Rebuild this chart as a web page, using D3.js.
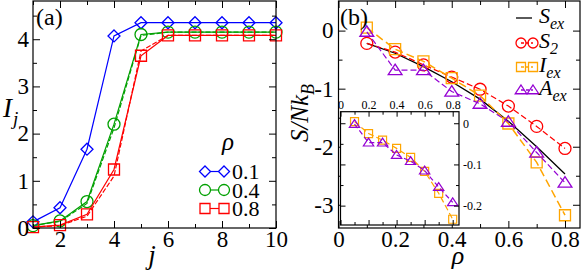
<!DOCTYPE html>
<html>
<head>
<meta charset="utf-8">
<script src="https://cdn.jsdelivr.net/npm/d3@7"></script>
<style>
body { margin: 0; background: #fff; }
text { font-family: "Liberation Serif", "Times New Roman", serif; }
</style>
</head>
<body>
<svg id="fig" width="581" height="277"></svg>
<script>
// ---- panel (a) data ----
const jVals = [1, 2, 3, 4, 5, 6, 7, 8, 9, 10];
const rhoLabels = ["0.1", "0.4", "0.8"];
const ij01 = [0.13, 0.43, 1.67, 4.07, 4.35, 4.35, 4.35, 4.35, 4.35, 4.35];
const ij04 = [0.05, 0.15, 0.56, 2.2, 4.1, 4.15, 4.15, 4.15, 4.15, 4.15];
const ij08 = [0.02, 0.06, 0.29, 1.24, 3.65, 4.08, 4.08, 4.08, 4.08, 4.08];
const ij04dash = [0.05, 0.14, 0.52, 2.12, 4.08, 4.15, 4.15, 4.15, 4.15, 4.15];
const ij08dash = [0.02, 0.05, 0.25, 1.1, 3.75, 4.08, 4.08, 4.08, 4.08, 4.08];

// ---- panel (b) data ----
const rhoVals = [0.1, 0.2, 0.3, 0.4, 0.5, 0.6, 0.7, 0.8];
const sEx = [-0.22, -0.39, -0.62, -0.88, -1.18, -1.56, -2.0, -2.47];
const s2 = [-0.22, -0.37, -0.59, -0.8, -1.01, -1.3, -1.65, -2.03];
const iEx = [0.05, -0.32, -0.53, -0.82, -1.12, -1.6, -2.27, -3.18];
const aEx = [-0.02, -0.68, -0.68, -1.05, -1.26, -1.57, -2.1, -2.62];
// inset
const insetIex = [0.004, -0.025, -0.041, -0.061, -0.083, -0.117, -0.17, -0.233];
const insetAex = [-0.002, -0.047, -0.047, -0.077, -0.092, -0.115, -0.155, -0.192];

const svg = d3.select("#fig");

function markerPath(type, s) {
  if (type == "diamond") return `M0,${-s}L${s},0L0,${s}L${-s},0Z`;
  if (type == "square") return `M${-s},${-s}H${s}V${s}H${-s}Z`;
  if (type == "triangle") return `M0,${-s}L${s * 1.15},${s * 0.75}L${-s * 1.15},${s * 0.75}Z`;
  return `M${s},0A${s},${s} 0 1,1 ${-s},0A${s},${s} 0 1,1 ${s},0Z`;
}

function ticks(g, axis, pos, vals, len, dim) {
  const tr = dim == "x" ? `translate(0,${pos})` : `translate(${pos},0)`;
  return g.append("g").attr("transform", tr)
    .call(axis.tickValues(vals).tickSize(len).tickSizeOuter(0))
    .call(s => s.select(".domain").remove());
}

// closed box with inward ticks on all four sides
function boxAxes(g, x, y, o) {
  const [x0, x1] = x.range(), [y0, y1] = y.range();
  g.append("rect").attr("x", x0).attr("y", y1).attr("width", x1 - x0).attr("height", y0 - y1)
    .attr("fill", "none").attr("stroke", "#000").attr("stroke-width", 1.2);
  const M = o.majorLen, m = o.minorLen;
  ticks(g, d3.axisBottom(x).tickFormat(""), y0, o.xMinor, -m, "x");
  ticks(g, d3.axisTop(x).tickFormat(""), y1, o.xMinor, -m, "x");
  ticks(g, d3.axisLeft(y).tickFormat(""), x0, o.yMinor, -m, "y");
  ticks(g, d3.axisRight(y).tickFormat(""), x1, o.yMinor, -m, "y");
  const xb = ticks(g, d3.axisBottom(x).tickFormat(o.xLabelsBottom ? o.xFmt : ""), y0, o.xMajor, -M, "x");
  const xt = ticks(g, d3.axisTop(x).tickFormat(o.xLabelsTop ? o.xFmt : ""), y1, o.xMajor, -M, "x");
  const yl = ticks(g, d3.axisLeft(y).tickFormat(o.yLabelsLeft ? o.yFmt : ""), x0, o.yMajor, -M, "y");
  const yr = ticks(g, d3.axisRight(y).tickFormat(o.yLabelsRight ? o.yFmt : ""), x1, o.yMajor, -M, "y");
  g.selectAll("line").attr("stroke", "#000").attr("stroke-width", 1);
  g.selectAll(".tick text").attr("fill", "#000").style("font-family", '"Liberation Serif", serif')
    .style("font-size", o.fontSize + "px");
  xb.selectAll("text").attr("y", o.xPad).attr("dy", "0.71em");
  xt.selectAll("text").attr("y", -o.xPad).attr("dy", "0");
  yl.selectAll("text").attr("x", -o.yPad);
  yr.selectAll("text").attr("x", o.yPad);
  g.selectAll(".tick text").text(function () { return this.textContent.replace("−", "-"); });
}

function series(g, x, y, xs, ys, o) {
  const pts = xs.map((v, i) => [x(v), y(ys[i])]);
  if (o.line !== false)
    g.append("path").attr("d", d3.line()(pts)).attr("fill", "none")
      .attr("stroke", o.color).attr("stroke-width", o.width || 1.2)
      .attr("stroke-dasharray", o.dash || null);
  if (o.marker)
    g.selectAll(null).data(pts).enter().append("path")
      .attr("transform", d => `translate(${d[0]},${d[1]})`)
      .attr("d", markerPath(o.marker, o.size))
      .attr("fill", "none").attr("stroke", o.color).attr("stroke-width", o.mw || 1.3);
}

// ================= panel (a) =================
const ga = svg.append("g");
const xa = d3.scaleLinear().domain([1, 10]).range([33, 276]);
const ya = d3.scaleLinear().domain([0, 4.81]).range([228, 1]);

const colA = ["#0000ff", "#00a000", "#ff0000"];
series(ga, xa, ya, jVals, ij04dash, { color: colA[1], dash: "5,2" });
series(ga, xa, ya, jVals, ij08dash, { color: colA[2], dash: "5,2" });
series(ga, xa, ya, jVals, ij01, { color: colA[0], marker: "diamond", size: 6 });
series(ga, xa, ya, jVals, ij04, { color: colA[1], marker: "circle", size: 6 });
series(ga, xa, ya, jVals, ij08, { color: colA[2], marker: "square", size: 5.5 });

boxAxes(ga, xa, ya, {
  xMajor: [2, 4, 6, 8, 10], xMinor: [1, 3, 5, 7, 9], yMajor: [0, 1, 2, 3, 4], yMinor: [0.5, 1.5, 2.5, 3.5, 4.5],
  majorLen: 7, minorLen: 4, xLabelsBottom: true, yLabelsLeft: true,
  xFmt: d3.format("d"), yFmt: d3.format("d"), fontSize: 23, xPad: 3, yPad: 4
});

ga.append("text").attr("x", 36).attr("y", 25).style("font-size", "24px").text("(a)");
const ylab = ga.append("text").attr("x", 3).attr("y", 117).style("font-size", "27px").style("font-style", "italic");
ylab.append("tspan").text("I");
ylab.append("tspan").attr("dy", 8).attr("dx", 1).style("font-size", "19px").text("j");
ga.append("text").attr("x", 152).attr("y", 264).attr("text-anchor", "middle")
  .style("font-size", "27px").style("font-style", "italic").text("j");

// legend (a)
ga.append("text").attr("x", 228).attr("y", 150).attr("text-anchor", "middle")
  .style("font-size", "25px").style("font-style", "italic").text("ρ");
const legA = ["diamond", "circle", "square"];
[171.5, 190, 208.5].forEach((ly, i) => {
  const lg = ga.append("g");
  lg.append("line").attr("x1", 205).attr("x2", 224).attr("y1", ly).attr("y2", ly)
    .attr("stroke", colA[i]).attr("stroke-width", 1.2);
  [205, 224].forEach(lx => lg.append("path").attr("transform", `translate(${lx},${ly})`)
    .attr("d", markerPath(legA[i], i == 2 ? 5 : 5.5)).attr("fill", "#fff")
    .attr("stroke", colA[i]).attr("stroke-width", 1.3));
  lg.append("text").attr("x", 232).attr("y", ly + 7.5).style("font-size", "22px").text(rhoLabels[i]);
});

// ================= panel (b) =================
const gb = svg.append("g");
const xb = d3.scaleLinear().domain([0, 0.853]).range([338.5, 580]);
const yb = d3.scaleLinear().domain([-3.4, 0.51]).range([228, 1]);

const cRed = "#ff0000", cOr = "#ffa500", cPur = "#9400d3";
series(gb, xb, yb, rhoVals, sEx, { color: "#000", width: 1.3 });
series(gb, xb, yb, rhoVals, s2, { color: cRed, dash: "6,3", marker: "circle", size: 6 });
series(gb, xb, yb, rhoVals, iEx, { color: cOr, dash: "8,4", marker: "square", size: 5.5, width: 1.5 });
series(gb, xb, yb, rhoVals, aEx, { color: cPur, dash: "6,3", marker: "triangle", size: 6 });

boxAxes(gb, xb, yb, {
  xMajor: [0, 0.2, 0.4, 0.6, 0.8], xMinor: [0.1, 0.3, 0.5, 0.7], yMajor: [-3, -2, -1, 0], yMinor: [-2.5, -1.5, -0.5],
  majorLen: 7, minorLen: 4, xLabelsBottom: true, yLabelsLeft: true,
  xFmt: d => d == 0 ? "0" : d3.format(".1f")(d), yFmt: d3.format("d"), fontSize: 23, xPad: 3, yPad: 5
});

gb.append("text").attr("x", 340).attr("y", 25).style("font-size", "24px").text("(b)");
const ylb = gb.append("text").attr("transform", "translate(308,113) rotate(-90)")
  .attr("text-anchor", "middle").style("font-size", "25px").style("font-style", "italic");
ylb.append("tspan").text("S/Nk");
ylb.append("tspan").attr("dy", 6).style("font-size", "18px").text("B");
gb.append("text").attr("x", 458).attr("y", 264).attr("text-anchor", "middle")
  .style("font-size", "26px").style("font-style", "italic").text("ρ");

// legend (b)
const legB = [
  { name: "S", sub: "ex", color: "#000", marker: null, dash: null },
  { name: "S", sub: "2", color: cRed, marker: "circle", dash: "3,2" },
  { name: "I", sub: "ex", color: cOr, marker: "square", dash: "3,2" },
  { name: "A", sub: "ex", color: cPur, marker: "triangle", dash: "3,2" }
];
[18, 43, 67, 90].forEach((ly, i) => {
  const d = legB[i];
  const lg = gb.append("g");
  lg.append("line").attr("x1", d.marker ? 521 : 516).attr("x2", d.marker ? 533 : 532)
    .attr("y1", ly).attr("y2", ly).attr("stroke", d.color).attr("stroke-width", 1.3)
    .attr("stroke-dasharray", d.dash);
  if (d.marker) [521, 533].forEach(lx => lg.append("path").attr("transform", `translate(${lx},${ly})`)
    .attr("d", markerPath(d.marker, d.marker == "square" ? 4.5 : 5)).attr("fill", "none")
    .attr("stroke", d.color).attr("stroke-width", 1.3));
  const t = lg.append("text").attr("x", 539).attr("y", ly + 5).style("font-size", "22px").style("font-style", "italic");
  t.append("tspan").text(d.name);
  t.append("tspan").attr("dy", 6).style("font-size", "16px").text(d.sub);
});

// ---- inset ----
const gi = svg.append("g");
const xi = d3.scaleLinear().domain([0, 0.845]).range([340.5, 459]);
const yi = d3.scaleLinear().domain([-0.247, 0.028]).range([225, 111.7]);
gi.append("rect").attr("x", 340.5).attr("y", 111.7).attr("width", 459 - 340.5).attr("height", 225 - 111.7).attr("fill", "#fff");
series(gi, xi, yi, rhoVals, insetIex, { color: cOr, dash: "6,3", marker: "square", size: 4, mw: 1.2 });
series(gi, xi, yi, rhoVals, insetAex, { color: cPur, dash: "5,3", marker: "triangle", size: 4.5, mw: 1.2 });
boxAxes(gi, xi, yi, {
  xMajor: [0, 0.2, 0.4, 0.6, 0.8], xMinor: [0.1, 0.3, 0.5, 0.7], yMajor: [-0.2, -0.1, 0], yMinor: [-0.15, -0.05],
  majorLen: 5, minorLen: 3, xLabelsTop: true, yLabelsRight: true,
  xFmt: d => d == 0 ? "0" : d3.format(".1f")(d), yFmt: d => d == 0 ? "0" : d3.format(".1f")(d),
  fontSize: 12, xPad: 3, yPad: 4
});
</script>
</body>
</html>
